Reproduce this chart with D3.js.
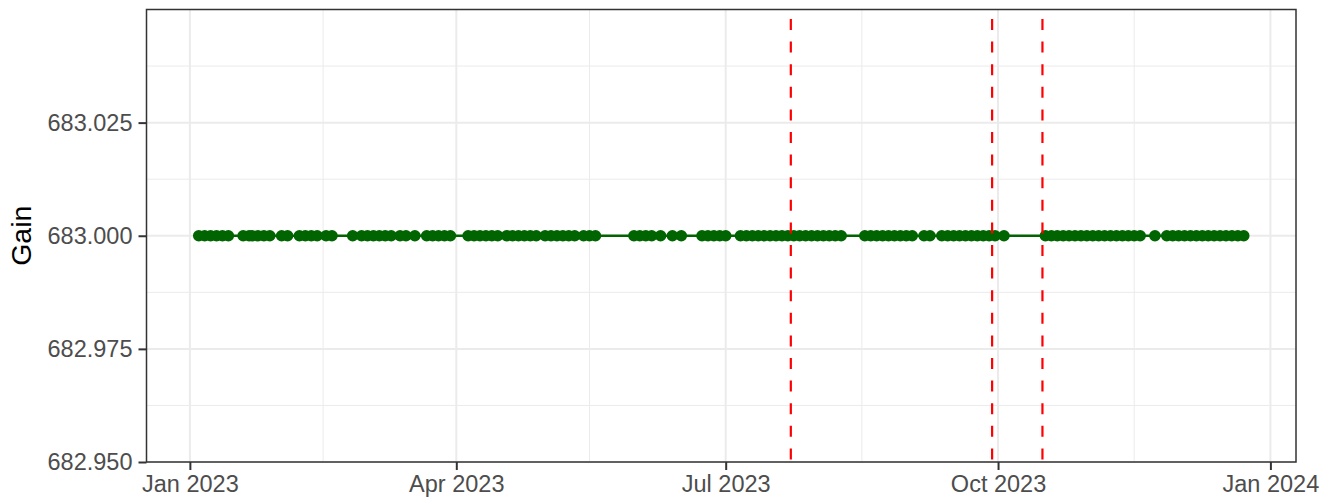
<!DOCTYPE html>
<html>
<head>
<meta charset="utf-8">
<script src="https://cdn.jsdelivr.net/npm/d3@7"></script>
<style>
  body { margin: 0; background: #fff; }
  svg { display: block; }
  text { font-family: "Liberation Sans", Arial, Helvetica, sans-serif; }
</style>
</head>
<body>
<svg id="chart" width="1323" height="499"></svg>
<script>
// ---- data ----
const pointDates = [
  "2023-01-04","2023-01-06","2023-01-08","2023-01-10","2023-01-12","2023-01-14",
  "2023-01-19","2023-01-21","2023-01-22","2023-01-24","2023-01-26","2023-01-28",
  "2023-02-01","2023-02-03",
  "2023-02-07","2023-02-09","2023-02-11","2023-02-13","2023-02-16","2023-02-18",
  "2023-02-25",
  "2023-02-28","2023-03-02","2023-03-04","2023-03-06","2023-03-08","2023-03-10",
  "2023-03-13","2023-03-15","2023-03-18",
  "2023-03-22","2023-03-24","2023-03-26","2023-03-28","2023-03-30",
  "2023-04-05","2023-04-07","2023-04-09","2023-04-11","2023-04-13","2023-04-15",
  "2023-04-18","2023-04-20","2023-04-22","2023-04-24","2023-04-26","2023-04-28",
  "2023-05-01","2023-05-03","2023-05-05","2023-05-07","2023-05-09","2023-05-11",
  "2023-05-14","2023-05-16","2023-05-18",
  "2023-05-31","2023-06-02","2023-06-04","2023-06-06","2023-06-09",
  "2023-06-13","2023-06-16",
  "2023-06-23","2023-06-25","2023-06-27","2023-06-29","2023-07-01",
  "2023-07-06","2023-07-08","2023-07-10","2023-07-12","2023-07-14","2023-07-16",
  "2023-07-18","2023-07-20","2023-07-22","2023-07-24","2023-07-26","2023-07-28",
  "2023-07-30","2023-08-01","2023-08-03","2023-08-05","2023-08-07","2023-08-09",
  "2023-08-17","2023-08-19","2023-08-21","2023-08-23","2023-08-25","2023-08-27",
  "2023-08-29","2023-08-31","2023-09-02",
  "2023-09-06","2023-09-08",
  "2023-09-12","2023-09-14","2023-09-16","2023-09-18","2023-09-20","2023-09-22",
  "2023-09-24","2023-09-26","2023-09-28","2023-09-30","2023-10-03",
  "2023-10-17","2023-10-19","2023-10-21","2023-10-23","2023-10-25","2023-10-27",
  "2023-10-29","2023-10-31","2023-11-02","2023-11-04","2023-11-06","2023-11-08",
  "2023-11-10","2023-11-12","2023-11-14","2023-11-16","2023-11-18",
  "2023-11-23",
  "2023-11-27","2023-11-29","2023-12-01","2023-12-03","2023-12-05","2023-12-07",
  "2023-12-09","2023-12-11","2023-12-13","2023-12-15","2023-12-17","2023-12-19",
  "2023-12-21","2023-12-23"
];
const gainValue = 683.000;           // every observation has the same gain
const eventDates = ["2023-07-23", "2023-09-29", "2023-10-16"];
const xTickDates = ["2023-01-01", "2023-04-01", "2023-07-01", "2023-10-01", "2024-01-01"];
const xTickLabels = ["Jan 2023", "Apr 2023", "Jul 2023", "Oct 2023", "Jan 2024"];
const xMinorDates = ["2023-02-15", "2023-05-16", "2023-08-16", "2023-11-16"];
const yTicks = [682.950, 682.975, 683.000, 683.025];
const yMinor = [682.9625, 682.9875, 683.0125, 683.0375];
const yDomain = [682.950, 683.050];
const yTitle = "Gain";

// ---- drawing ----
const parse = d3.timeParse("%Y-%m-%d");
const data = pointDates.map(d => ({ date: parse(d), gain: gainValue }));

const panel = { left: 146.5, right: 1296, top: 9.5, bottom: 462 };
const svg = d3.select("#chart");

const ext = d3.extent(data, d => d.date);
const span = ext[1] - ext[0];
const x = d3.scaleTime()
  .domain([new Date(+ext[0] - 0.05 * span), new Date(+ext[1] + 0.05 * span)])
  .range([panel.left, panel.right]);
const y = d3.scaleLinear().domain(yDomain).range([panel.bottom, panel.top]);

const grid = svg.append("g");
// minor grid
grid.selectAll("line.ymin").data(yMinor).enter().append("line")
  .attr("x1", panel.left).attr("x2", panel.right)
  .attr("y1", d => y(d)).attr("y2", d => y(d))
  .attr("stroke", "#ebebeb").attr("stroke-width", 1);
grid.selectAll("line.xmin").data(xMinorDates.map(parse)).enter().append("line")
  .attr("x1", d => x(d)).attr("x2", d => x(d))
  .attr("y1", panel.top).attr("y2", panel.bottom)
  .attr("stroke", "#ebebeb").attr("stroke-width", 1);
// major grid
grid.selectAll("line.ymaj").data(yTicks).enter().append("line")
  .attr("x1", panel.left).attr("x2", panel.right)
  .attr("y1", d => y(d)).attr("y2", d => y(d))
  .attr("stroke", "#ebebeb").attr("stroke-width", 2);
grid.selectAll("line.xmaj").data(xTickDates.map(parse)).enter().append("line")
  .attr("x1", d => x(d)).attr("x2", d => x(d))
  .attr("y1", panel.top).attr("y2", panel.bottom)
  .attr("stroke", "#ebebeb").attr("stroke-width", 2);

// line + points
svg.append("path").datum(data)
  .attr("fill", "none").attr("stroke", "#006400").attr("stroke-width", 2.5)
  .attr("d", d3.line().x(d => x(d.date)).y(d => y(d.gain)));
svg.append("g").selectAll("circle").data(data).enter().append("circle")
  .attr("cx", d => x(d.date)).attr("cy", d => y(d.gain)).attr("r", 5.8)
  .attr("fill", "#006400");

// event lines
svg.append("g").selectAll("line").data(eventDates.map(parse)).enter().append("line")
  .attr("x1", d => x(d)).attr("x2", d => x(d))
  .attr("y1", panel.top).attr("y2", panel.bottom)
  .attr("stroke", "#ff0000").attr("stroke-width", 2.2)
  .attr("stroke-dasharray", "11,11.6").attr("stroke-dashoffset", -9.5);

// panel border
svg.append("rect")
  .attr("x", panel.left).attr("y", panel.top)
  .attr("width", panel.right - panel.left).attr("height", panel.bottom - panel.top)
  .attr("fill", "none").attr("stroke", "#333333").attr("stroke-width", 1.5);

// axes
const xAxis = d3.axisBottom(x)
  .tickValues(xTickDates.map(parse))
  .tickFormat((d, i) => xTickLabels[i])
  .tickSize(8).tickPadding(5);
const gx = svg.append("g").attr("transform", `translate(0,${panel.bottom})`).call(xAxis);
gx.select(".domain").remove();
gx.selectAll(".tick line").attr("stroke", "#333333").attr("stroke-width", 2);
gx.selectAll(".tick text").attr("fill", "#4d4d4d").attr("font-size", 23.5)
  .attr("font-family", "Liberation Sans, Arial, sans-serif");

const yAxis = d3.axisLeft(y)
  .tickValues(yTicks).tickFormat(d3.format(".3f"))
  .tickSize(8).tickPadding(6);
const gy = svg.append("g").attr("transform", `translate(${panel.left},0)`).call(yAxis);
gy.select(".domain").remove();
gy.selectAll(".tick line").attr("stroke", "#333333").attr("stroke-width", 2);
gy.selectAll(".tick text").attr("fill", "#4d4d4d").attr("font-size", 23.5)
  .attr("font-family", "Liberation Sans, Arial, sans-serif");

svg.append("text")
  .attr("transform", `translate(31,${(panel.top + panel.bottom) / 2}) rotate(-90)`)
  .attr("text-anchor", "middle")
  .attr("font-size", 28.5).attr("fill", "#000")
  .text(yTitle);
</script>
</body>
</html>
